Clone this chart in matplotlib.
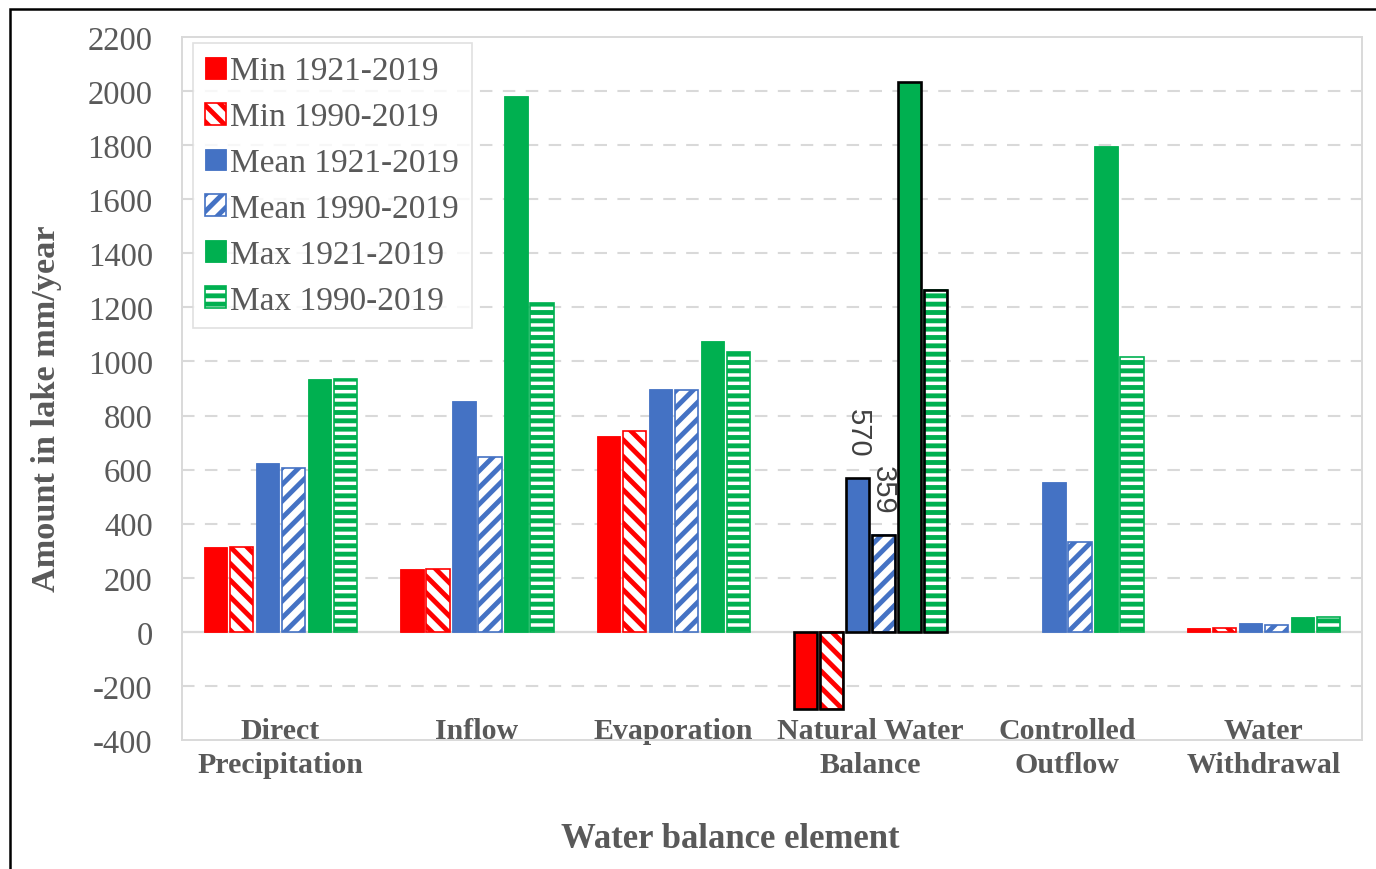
import numpy as np
import matplotlib.pyplot as plt
from matplotlib.patches import Rectangle

plt.rcParams['font.family'] = ['Liberation Serif', 'DejaVu Serif']
plt.rcParams['hatch.linewidth'] = 3.5
plt.rcParams['lines.scale_dashes'] = False

# данные (мм/год)
categories = ['Direct\nPrecipitation', 'Inflow', 'Evaporation',
              'Natural Water\nBalance', 'Controlled\nOutflow', 'Water\nWithdrawal']
series_names = ['Min 1921-2019', 'Min 1990-2019', 'Mean 1921-2019',
                'Mean 1990-2019', 'Max 1921-2019', 'Max 1990-2019']

min_1921 = [313, 233, 725, -285, np.nan, 15]
min_1990 = [313, 233, 743, -285, np.nan, 15]
mean_1921 = [625, 854, 900, 570, 553, 33]
mean_1990 = [607, 647, 895, 359, 332, 25]
max_1921 = [935, 1980, 1076, 2033, 1797, 54]
max_1990 = [935, 1218, 1035, 1264, 1017, 54]

series_values = [min_1921, min_1990, mean_1921, mean_1990, max_1921, max_1990]
colors = ['#FF0000', '#FF0000', '#4472C4', '#4472C4', '#00B050', '#00B050']
hatches = [None, '\\\\', None, '//', None, '--']

yticks = list(range(-400, 2201, 200))
text_gray = '#595959'
grid_gray = '#D9D9D9'

fig = plt.figure(figsize=(13.76, 8.7), dpi=100)
ax = fig.add_axes([182/1376, 1 - 741/870, (1362 - 182)/1376, (741 - 38)/870])

x = np.arange(len(categories))
step = 0.132
width = 0.118

for i, (name, vals, col, hat) in enumerate(zip(series_names, series_values, colors, hatches)):
    pos = x + (i - 2.5) * step
    if hat is None:
        bars = ax.bar(pos, vals, width, color=col, edgecolor=col, linewidth=0.6,
                      label=name, zorder=3)
    else:
        bars = ax.bar(pos, vals, width, facecolor='white', edgecolor=col, hatch=hat,
                      linewidth=1.2, label=name, zorder=3)
        for b in bars:
            if hasattr(b, 'set_hatch_linewidth'):
                b.set_hatch_linewidth(3.5)
    # черная обводка для Natural Water Balance
    ax.bar(pos[3], vals[3], width, facecolor='none', edgecolor='black',
           linewidth=1.9, zorder=4)

# подписи 570 и 359
for i, vals in [(2, mean_1921), (3, mean_1990)]:
    ax.annotate(f'{vals[3]}', xy=(x[3] + (i - 2.5) * step, vals[3]),
                xytext=(0, 15), textcoords='offset points', rotation=270,
                ha='center', va='bottom', fontsize=21, color='#404040',
                family=['Liberation Sans', 'DejaVu Sans'])

ax.set_xlim(-0.5, len(categories) - 0.5)
ax.set_ylim(-400, 2200)
ax.set_yticks(yticks)
ax.set_yticklabels([str(v) for v in yticks], fontsize=23.5, color=text_gray)
ax.tick_params(axis='y', length=0, pad=21)

ax.set_xticks(x)
ax.set_xticklabels(categories, fontsize=21.5, fontweight='bold', color=text_gray,
                   linespacing=1.35)
ax.tick_params(axis='x', length=0, pad=-16.5)

ax.set_axisbelow(True)
for v in yticks:
    if v in (-400, 0, 2200):
        continue
    ax.axhline(v, color=grid_gray, linewidth=1.5, linestyle=(0, (9, 7.5)), zorder=1)
ax.axhline(0, color=grid_gray, linewidth=1.6, zorder=2)

for s in ax.spines.values():
    s.set_color(grid_gray)
    s.set_linewidth(1.4)

ax.set_ylabel('Amount in lake mm/year', fontsize=24.7, fontweight='bold', color=text_gray)
ax.yaxis.set_label_coords(-0.102, 0.473)
fig.text(730/1376, 1 - 840/870, 'Water balance element', fontsize=25, fontweight='bold',
         color=text_gray, ha='center', va='center')

leg = ax.legend(loc='upper left', bbox_to_anchor=(0.009, 0.991), fontsize=24,
                frameon=True, fancybox=False, edgecolor=grid_gray,
                handlelength=0.63, handleheight=0.63, handletextpad=0.12,
                labelspacing=0.46, borderpad=0.38, borderaxespad=0)
leg.get_frame().set_linewidth(1.2)
for t in leg.get_texts():
    t.set_color(text_gray)

# внешняя рамка
fig.patches.append(Rectangle((10/1376, -0.1), 1.2, 1.1 - 10/870, transform=fig.transFigure,
                             fill=False, edgecolor='black', linewidth=1.8))

fig.savefig('out.png', dpi=100)
